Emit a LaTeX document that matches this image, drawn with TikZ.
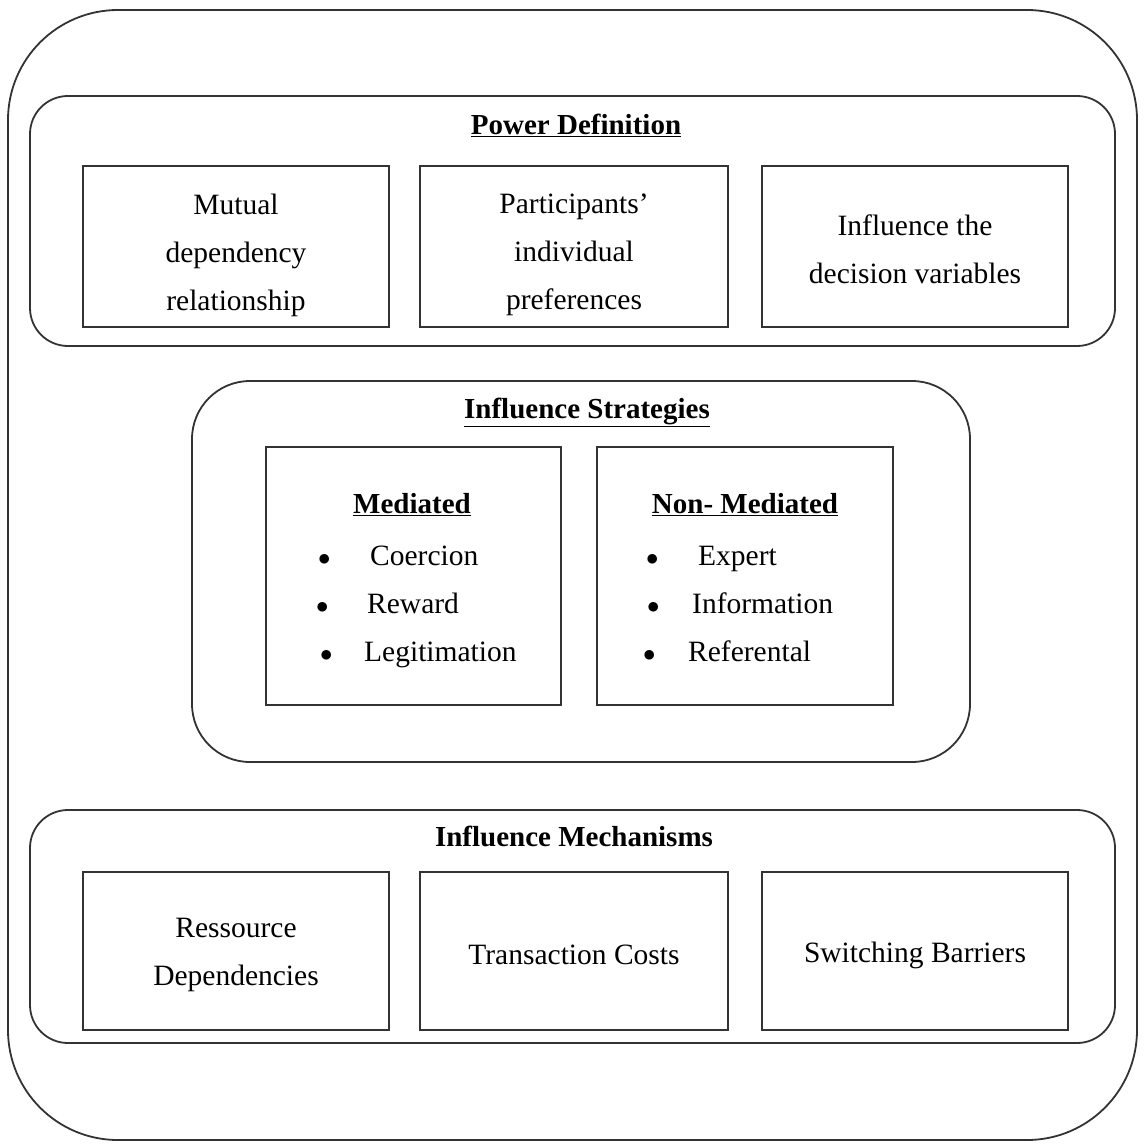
\documentclass[tikz,border=0pt]{standalone}
\usepackage{fontspec}
\setmainfont{Liberation Serif}
\begin{document}
\begin{tikzpicture}[x=1pt,y=-1pt,
  frame/.style={draw=black!80,line width=1.8pt},
  box/.style={draw=black!80,line width=2pt},
  txt/.style={font=\fontsize{29.5}{48}\selectfont,align=center,inner sep=0},
  btxt/.style={font=\fontsize{29.5}{48}\selectfont,inner sep=0,anchor=base west},
  ttl/.style={font=\fontsize{29}{32}\selectfont\bfseries,inner sep=0}]
\useasboundingbox (0,0) rectangle (1146,1147);
\draw[frame,rounded corners=110pt] (8,10) rectangle (1137,1140);
% Power definition
\draw[frame,rounded corners=38pt] (30,96) rectangle (1115,346);
\node[ttl] (pd) at (576,125) {\underline{Power Definition}};
\draw[box] (83,166) rectangle (389,327);
\draw[box] (420,166) rectangle (728,327);
\draw[box] (762,166) rectangle (1068,327);
\node[txt] (a1) at (236,255) {Mutual\\dependency\\relationship};
\node[txt] (a2) at (574,255) {Participants'\\individual\\preferences};
\node[txt] (a3) at (915,249) {Influence the\\decision variables};
% Influence strategies
\draw[frame,rounded corners=58pt] (192,381) rectangle (970,762);
\node[ttl] (is) at (587,412) {\underline{Influence Strategies}};
\draw[box] (266,447) rectangle (561,705);
\draw[box] (597,447) rectangle (893,705);
\node[ttl] (m) at (412,505) {\underline{Mediated}};
\node[ttl] (nm) at (745,505) {\underline{Non- Mediated}};
\foreach \y/\t/\bx/\tx in {565/Coercion/318/370,613/Reward/316/367,661/Legitimation/320/364}{
  \node[btxt] at (\bx,\y) {$\bullet$};
  \node[btxt] at (\tx,\y) {\t};}
\foreach \y/\t/\bx/\tx in {565/Expert/646/698,613/Information/647/692,661/Referental/643/688}{
  \node[btxt] at (\bx,\y) {$\bullet$};
  \node[btxt] at (\tx,\y) {\t};}
% Mechanisms
\draw[frame,rounded corners=38pt] (30,810) rectangle (1115,1043);
\node[ttl] (im) at (574,836) {Influence Mechanisms};
\draw[box] (83,872) rectangle (389,1030);
\draw[box] (420,872) rectangle (728,1030);
\draw[box] (762,872) rectangle (1068,1030);
\node[txt] (b1) at (236,955) {Ressource\\Dependencies};
\node[txt] (b2) at (574,955) {Transaction Costs};
\node[txt] (b3) at (915,955) {Switching Barriers};
\end{tikzpicture}
\end{document}
